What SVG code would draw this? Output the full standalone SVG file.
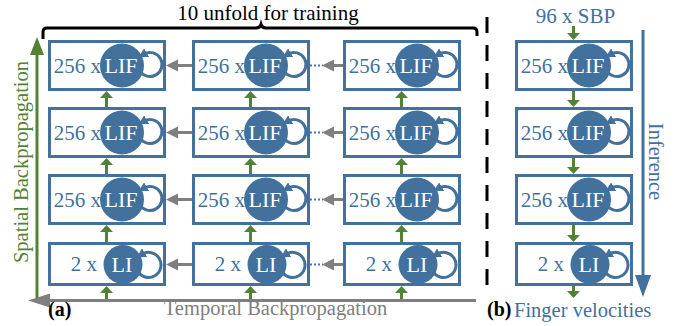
<svg xmlns="http://www.w3.org/2000/svg" width="686" height="326" viewBox="0 0 686 326">
  <style>
    text { font-family: 'Liberation Serif', 'Times New Roman', Times, 'DejaVu Serif', serif; }
    .box { fill: #ffffff; stroke: #41719c; stroke-width: 3; }
    .cell { fill: #41719c; }
    .loop { fill: none; stroke: #41719c; stroke-width: 3; marker-end: url(#loopHead); }
    .lbl { fill: #41719c; font-size: 21px; text-anchor: end; }
    .in { fill: #ffffff; font-size: 22px; text-anchor: middle; }
    .g { stroke: #548235; stroke-width: 3; fill: none; }
    .gh { fill: #548235; }
    .k { stroke: #7f7f7f; stroke-width: 3; fill: none; }
    .kh { fill: #7f7f7f; }
    .dot { stroke: #4472c4; stroke-width: 2; stroke-dasharray: 2 2; }
  </style>
  <defs>
    <marker id="loopHead" markerUnits="userSpaceOnUse" markerWidth="9" markerHeight="10" viewBox="0 0 9 10" refX="3" refY="5" orient="auto">
      <path d="M0,0 L9,5 L0,10 z" fill="#41719c"/>
    </marker>
  </defs>

  <!-- bracket over the unrolled time steps -->
  <path d="M43,39 V32 Q43,28 47,28 H256 Q260,28 261,24.5 Q262,28 266,28 H473 Q477,28 477,32 V36" fill="none" stroke="#000" stroke-width="3"/>
  <text x="268" y="20" font-size="21" text-anchor="middle" fill="#000">10 unfold for training</text>

  <!-- separator between panels -->
  <line x1="487" y1="17" x2="487" y2="295" stroke="#000" stroke-width="3" stroke-dasharray="16 12"/>

  <!-- panel (a): column 1 -->
  <g id="a-c1-r1"><rect class="box" x="49.5" y="41.5" width="115" height="48"/><path class="loop" d="M139.6,70.5 A12,12 0 1 0 144,54.1"/><circle class="cell" cx="122" cy="65.5" r="22"/><text class="lbl" x="101" y="72.5">256 x</text><text class="in" x="121" y="73">LIF</text></g>
  <g id="a-c1-r2"><rect class="box" x="49.5" y="108.5" width="115" height="48"/><path class="loop" d="M139.6,137.5 A12,12 0 1 0 144,121.1"/><circle class="cell" cx="122" cy="132.5" r="22"/><text class="lbl" x="101" y="139.5">256 x</text><text class="in" x="121" y="140">LIF</text></g>
  <g id="a-c1-r3"><rect class="box" x="49.5" y="175.5" width="115" height="48"/><path class="loop" d="M139.6,204.5 A12,12 0 1 0 144,188.1"/><circle class="cell" cx="122" cy="199.5" r="22"/><text class="lbl" x="101" y="206.5">256 x</text><text class="in" x="121" y="207">LIF</text></g>
  <g id="a-c1-r4"><rect class="box" x="49.5" y="243.5" width="115" height="41"/><path class="loop" d="M137.6,271 A12.5,12.5 0 1 0 142,254.2"/><circle class="cell" cx="123" cy="264.5" r="19.5"/><text class="lbl" x="97" y="271">2 x</text><text class="in" x="122" y="271.5">LI</text></g>

  <!-- panel (a): column 2 -->
  <g id="a-c2-r1"><rect class="box" x="193.5" y="41.5" width="115" height="48"/><path class="loop" d="M283.6,70.5 A12,12 0 1 0 288,54.1"/><circle class="cell" cx="266" cy="65.5" r="22"/><text class="lbl" x="245" y="72.5">256 x</text><text class="in" x="265" y="73">LIF</text></g>
  <g id="a-c2-r2"><rect class="box" x="193.5" y="108.5" width="115" height="48"/><path class="loop" d="M283.6,137.5 A12,12 0 1 0 288,121.1"/><circle class="cell" cx="266" cy="132.5" r="22"/><text class="lbl" x="245" y="139.5">256 x</text><text class="in" x="265" y="140">LIF</text></g>
  <g id="a-c2-r3"><rect class="box" x="193.5" y="175.5" width="115" height="48"/><path class="loop" d="M283.6,204.5 A12,12 0 1 0 288,188.1"/><circle class="cell" cx="266" cy="199.5" r="22"/><text class="lbl" x="245" y="206.5">256 x</text><text class="in" x="265" y="207">LIF</text></g>
  <g id="a-c2-r4"><rect class="box" x="193.5" y="243.5" width="115" height="41"/><path class="loop" d="M281.6,271 A12.5,12.5 0 1 0 286,254.2"/><circle class="cell" cx="267" cy="264.5" r="19.5"/><text class="lbl" x="241" y="271">2 x</text><text class="in" x="266" y="271.5">LI</text></g>

  <!-- panel (a): column 3 -->
  <g id="a-c3-r1"><rect class="box" x="344.5" y="41.5" width="115" height="48"/><path class="loop" d="M434.6,70.5 A12,12 0 1 0 439,54.1"/><circle class="cell" cx="417" cy="65.5" r="22"/><text class="lbl" x="396" y="72.5">256 x</text><text class="in" x="416" y="73">LIF</text></g>
  <g id="a-c3-r2"><rect class="box" x="344.5" y="108.5" width="115" height="48"/><path class="loop" d="M434.6,137.5 A12,12 0 1 0 439,121.1"/><circle class="cell" cx="417" cy="132.5" r="22"/><text class="lbl" x="396" y="139.5">256 x</text><text class="in" x="416" y="140">LIF</text></g>
  <g id="a-c3-r3"><rect class="box" x="344.5" y="175.5" width="115" height="48"/><path class="loop" d="M434.6,204.5 A12,12 0 1 0 439,188.1"/><circle class="cell" cx="417" cy="199.5" r="22"/><text class="lbl" x="396" y="206.5">256 x</text><text class="in" x="416" y="207">LIF</text></g>
  <g id="a-c3-r4"><rect class="box" x="344.5" y="243.5" width="115" height="41"/><path class="loop" d="M432.6,271 A12.5,12.5 0 1 0 437,254.2"/><circle class="cell" cx="418" cy="264.5" r="19.5"/><text class="lbl" x="392" y="271">2 x</text><text class="in" x="417" y="271.5">LI</text></g>

  <!-- panel (b): inference stack -->
  <g id="b-r1"><rect class="box" x="516.5" y="41.5" width="115" height="48"/><path class="loop" d="M606.6,70.5 A12,12 0 1 0 611,54.1"/><circle class="cell" cx="589" cy="65.5" r="22"/><text class="lbl" x="568" y="72.5">256 x</text><text class="in" x="588" y="73">LIF</text></g>
  <g id="b-r2"><rect class="box" x="516.5" y="108.5" width="115" height="48"/><path class="loop" d="M606.6,137.5 A12,12 0 1 0 611,121.1"/><circle class="cell" cx="589" cy="132.5" r="22"/><text class="lbl" x="568" y="139.5">256 x</text><text class="in" x="588" y="140">LIF</text></g>
  <g id="b-r3"><rect class="box" x="516.5" y="175.5" width="115" height="48"/><path class="loop" d="M606.6,204.5 A12,12 0 1 0 611,188.1"/><circle class="cell" cx="589" cy="199.5" r="22"/><text class="lbl" x="568" y="206.5">256 x</text><text class="in" x="588" y="207">LIF</text></g>
  <g id="b-r4"><rect class="box" x="516.5" y="243.5" width="115" height="41"/><path class="loop" d="M604.6,271 A12.5,12.5 0 1 0 609,254.2"/><circle class="cell" cx="590" cy="264.5" r="19.5"/><text class="lbl" x="564" y="271">2 x</text><text class="in" x="589" y="271.5">LI</text></g>

  <g id="connectors">
    <!-- spatial (upward) links in panel (a) -->
    <g id="spatial-links">
      <line class="g" x1="106.5" y1="107" x2="106.5" y2="97"/><polygon class="gh" points="106.5,91 100,98 113,98"/>
      <line class="g" x1="106.5" y1="174" x2="106.5" y2="164"/><polygon class="gh" points="106.5,158 100,165 113,165"/>
      <line class="g" x1="106.5" y1="242" x2="106.5" y2="231"/><polygon class="gh" points="106.5,225 100,232 113,232"/>
      <line class="g" x1="106.5" y1="299" x2="106.5" y2="292"/><polygon class="gh" points="106.5,286 100,293 113,293"/>
      <line class="g" x1="250.5" y1="107" x2="250.5" y2="97"/><polygon class="gh" points="250.5,91 244,98 257,98"/>
      <line class="g" x1="250.5" y1="174" x2="250.5" y2="164"/><polygon class="gh" points="250.5,158 244,165 257,165"/>
      <line class="g" x1="250.5" y1="242" x2="250.5" y2="231"/><polygon class="gh" points="250.5,225 244,232 257,232"/>
      <line class="g" x1="250.5" y1="299" x2="250.5" y2="292"/><polygon class="gh" points="250.5,286 244,293 257,293"/>
      <line class="g" x1="401.5" y1="107" x2="401.5" y2="97"/><polygon class="gh" points="401.5,91 395,98 408,98"/>
      <line class="g" x1="401.5" y1="174" x2="401.5" y2="164"/><polygon class="gh" points="401.5,158 395,165 408,165"/>
      <line class="g" x1="401.5" y1="242" x2="401.5" y2="231"/><polygon class="gh" points="401.5,225 395,232 408,232"/>
      <line class="g" x1="401.5" y1="299" x2="401.5" y2="292"/><polygon class="gh" points="401.5,286 395,293 408,293"/>
    </g>
    <!-- temporal (leftward) links in panel (a) -->
    <g id="temporal-links">
      <line class="k" x1="192" y1="65.5" x2="176" y2="65.5"/><polygon class="kh" points="166,65.5 178,59.5 178,71.5"/>
      <line class="k" x1="192" y1="132.5" x2="176" y2="132.5"/><polygon class="kh" points="166,132.5 178,126.5 178,138.5"/>
      <line class="k" x1="192" y1="199.5" x2="176" y2="199.5"/><polygon class="kh" points="166,199.5 178,193.5 178,205.5"/>
      <line class="k" x1="192" y1="264.5" x2="176" y2="264.5"/><polygon class="kh" points="166,264.5 178,258.5 178,270.5"/>
      <line class="dot" x1="310" y1="65.5" x2="323" y2="65.5"/><line class="k" x1="343" y1="65.5" x2="332" y2="65.5"/><polygon class="kh" points="322,65.5 334,59.5 334,71.5"/>
      <line class="dot" x1="310" y1="132.5" x2="323" y2="132.5"/><line class="k" x1="343" y1="132.5" x2="332" y2="132.5"/><polygon class="kh" points="322,132.5 334,126.5 334,138.5"/>
      <line class="dot" x1="310" y1="199.5" x2="323" y2="199.5"/><line class="k" x1="343" y1="199.5" x2="332" y2="199.5"/><polygon class="kh" points="322,199.5 334,193.5 334,205.5"/>
      <line class="dot" x1="310" y1="264.5" x2="323" y2="264.5"/><line class="k" x1="343" y1="264.5" x2="332" y2="264.5"/><polygon class="kh" points="322,264.5 334,258.5 334,270.5"/>
    </g>
    <!-- forward (downward) links in panel (b) -->
    <g id="inference-links">
      <line class="g" x1="573.5" y1="26" x2="573.5" y2="34"/><polygon class="gh" points="573.5,40 567,33 580,33"/>
      <line class="g" x1="573.5" y1="91" x2="573.5" y2="101"/><polygon class="gh" points="573.5,107 567,100 580,100"/>
      <line class="g" x1="573.5" y1="158" x2="573.5" y2="168"/><polygon class="gh" points="573.5,174 567,167 580,167"/>
      <line class="g" x1="573.5" y1="225" x2="573.5" y2="236"/><polygon class="gh" points="573.5,242 567,235 580,235"/>
      <line class="g" x1="573.5" y1="286" x2="573.5" y2="292"/><polygon class="gh" points="573.5,298 567,291 580,291"/>
    </g>
    <!-- axis arrows -->
    <line class="g" x1="37" y1="299" x2="37" y2="53"/><polygon class="gh" points="37,37 30,55 44,55"/>
    <line class="k" x1="476" y1="300.5" x2="48" y2="300.5"/><polygon class="kh" points="28,300.5 50,293.5 50,307.5"/>
    <line x1="643" y1="30" x2="643" y2="277" stroke="#41719c" stroke-width="3"/><polygon points="643,297 635,275 651,275" fill="#41719c"/>
  </g>

  <!-- axis and panel labels -->
  <text transform="translate(27.5,162) rotate(-90)" font-size="20.5" fill="#548235" text-anchor="middle">Spatial Backpropagation</text>
  <text x="275.5" y="315" font-size="20.5" fill="#7f7f7f" text-anchor="middle">Temporal Backpropagation</text>
  <text transform="translate(648.5,161.5) rotate(90)" font-size="20.5" fill="#41719c" text-anchor="middle">Inference</text>
  <text x="575.5" y="23" font-size="21" fill="#41719c" text-anchor="middle">96 x SBP</text>
  <text x="514" y="317" font-size="20.5" fill="#41719c">Finger velocities</text>
  <text x="48" y="316" font-size="20" font-weight="bold" fill="#000">(a)</text>
  <text x="487" y="316" font-size="20" font-weight="bold" fill="#000">(b)</text>
</svg>
